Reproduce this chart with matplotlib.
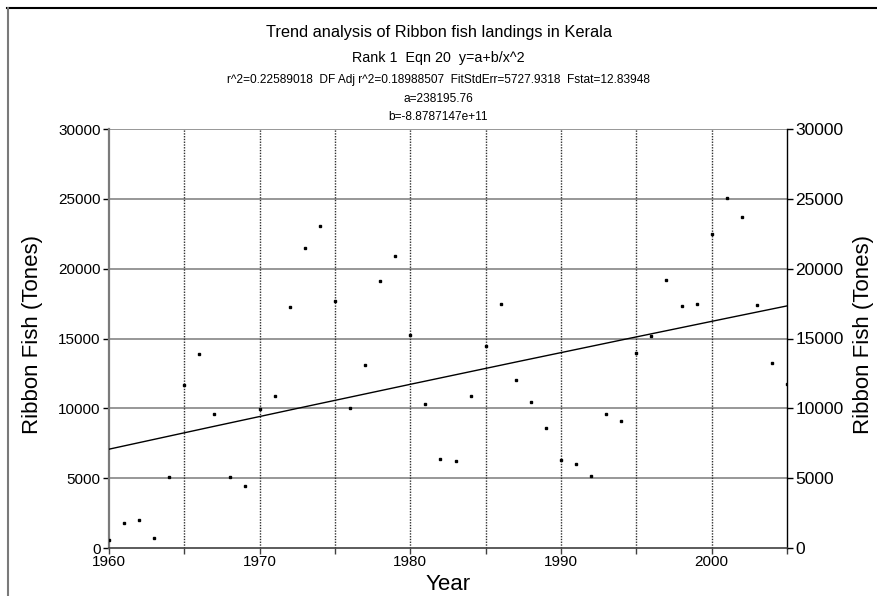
import numpy as np
import matplotlib
matplotlib.use("Agg")
import matplotlib.pyplot as plt
from matplotlib.lines import Line2D
from matplotlib.ticker import MultipleLocator

plt.rcParams['font.family'] = ['Liberation Sans', 'DejaVu Sans']

# Annual ribbon fish landings in Kerala (tonnes)
years = list(range(1960, 2006))
landings = [600, 1790, 2000, 700, 5080, 11670, 13900, 9610, 5060, 4440,
            9950, 10880, 17250, 21500, 23050, 17680, 10040, 13100, 19110, 20920,
            15250, 10300, 6370, 6200, 10880, 14460, 17440, 12000, 10430, 8590,
            6320, 5990, 5180, 9590, 9090, 13980, 15180, 19160, 17320, 17440,
            22500, 25080, 23670, 17370, 13220, 11740]

# Fitted model y = a + b / x^2
a = 238195.76
b = -8.8787147e+11

title_lines = [
    ("Trend analysis of Ribbon fish landings in Kerala", 11.8, 0.946),
    ("Rank 1  Eqn 20  y=a+b/x^2", 10.3, 0.903),
    ("r^2=0.22589018  DF Adj r^2=0.18988507  FitStdErr=5727.9318  Fstat=12.83948", 8.6, 0.866),
    ("a=238195.76", 8.6, 0.834),
    ("b=-8.8787147e+11", 8.6, 0.804),
]

fig = plt.figure(figsize=(8.77, 5.96), dpi=100)
ax = fig.add_axes([109/877, 48/596, 678/877, 419/596])

# grid
for yv in range(5000, 30001, 5000):
    ax.axhline(yv, color='#7a7a7a', lw=1.1, zorder=1)
for xv in range(1965, 2005, 5):
    ax.axvline(xv, color='#303030', lw=1.0, ls=(0, (1, 1)), zorder=1)

# fitted curve
xf = np.linspace(1960, 2005, 200)
ax.plot(xf, a + b / xf**2, color='black', lw=1.0, zorder=3)

# data points
ax.plot(years, landings, ls='none', marker='s', ms=1.8, color='black', zorder=4)

ax.set_xlim(1960, 2005)
ax.set_ylim(0, 30000)
ax.xaxis.set_major_locator(MultipleLocator(10))
ax.xaxis.set_minor_locator(MultipleLocator(5))
ax.yaxis.set_major_locator(MultipleLocator(5000))

ax.spines['top'].set_visible(False)
ax.spines['left'].set_color('#7a7a7a')
ax.spines['left'].set_linewidth(1.6)
ax.spines['bottom'].set_color('#404040')
ax.spines['bottom'].set_linewidth(1.2)
ax.spines['right'].set_color('black')
ax.spines['right'].set_linewidth(1.0)

ax.tick_params(axis='x', which='both', direction='out', length=4, width=1,
               color='#404040', labelsize=11, pad=1)
ax.tick_params(axis='y', which='both', direction='out', length=4, width=1,
               labelsize=11, pad=2, left=True, right=True,
               labelleft=True, labelright=True, colors='black')
for tick in ax.yaxis.get_major_ticks():
    tick.label2.set_fontsize(12.5)

ax.set_xlabel("Year", fontsize=16, labelpad=4)

# y-axis titles on both sides
fig.text(33/877, 1 - 334/596, "Ribbon Fish (Tones)", rotation=90,
         ha='center', va='center', fontsize=16)
fig.text(863/877, 1 - 334/596, "Ribbon Fish (Tones)", rotation=90,
         ha='center', va='center', fontsize=16)

for txt, size, ypos in title_lines:
    fig.text(0.5, ypos, txt, ha='center', va='center', fontsize=size)

# outer frame lines
fig.add_artist(Line2D([7/877, 1], [1 - 8/596, 1 - 8/596], color='black', lw=1.5))
fig.add_artist(Line2D([8/877, 8/877], [0, 1 - 8/596], color='#7a7a7a', lw=1.5))

fig.savefig("out.png", dpi=100)
